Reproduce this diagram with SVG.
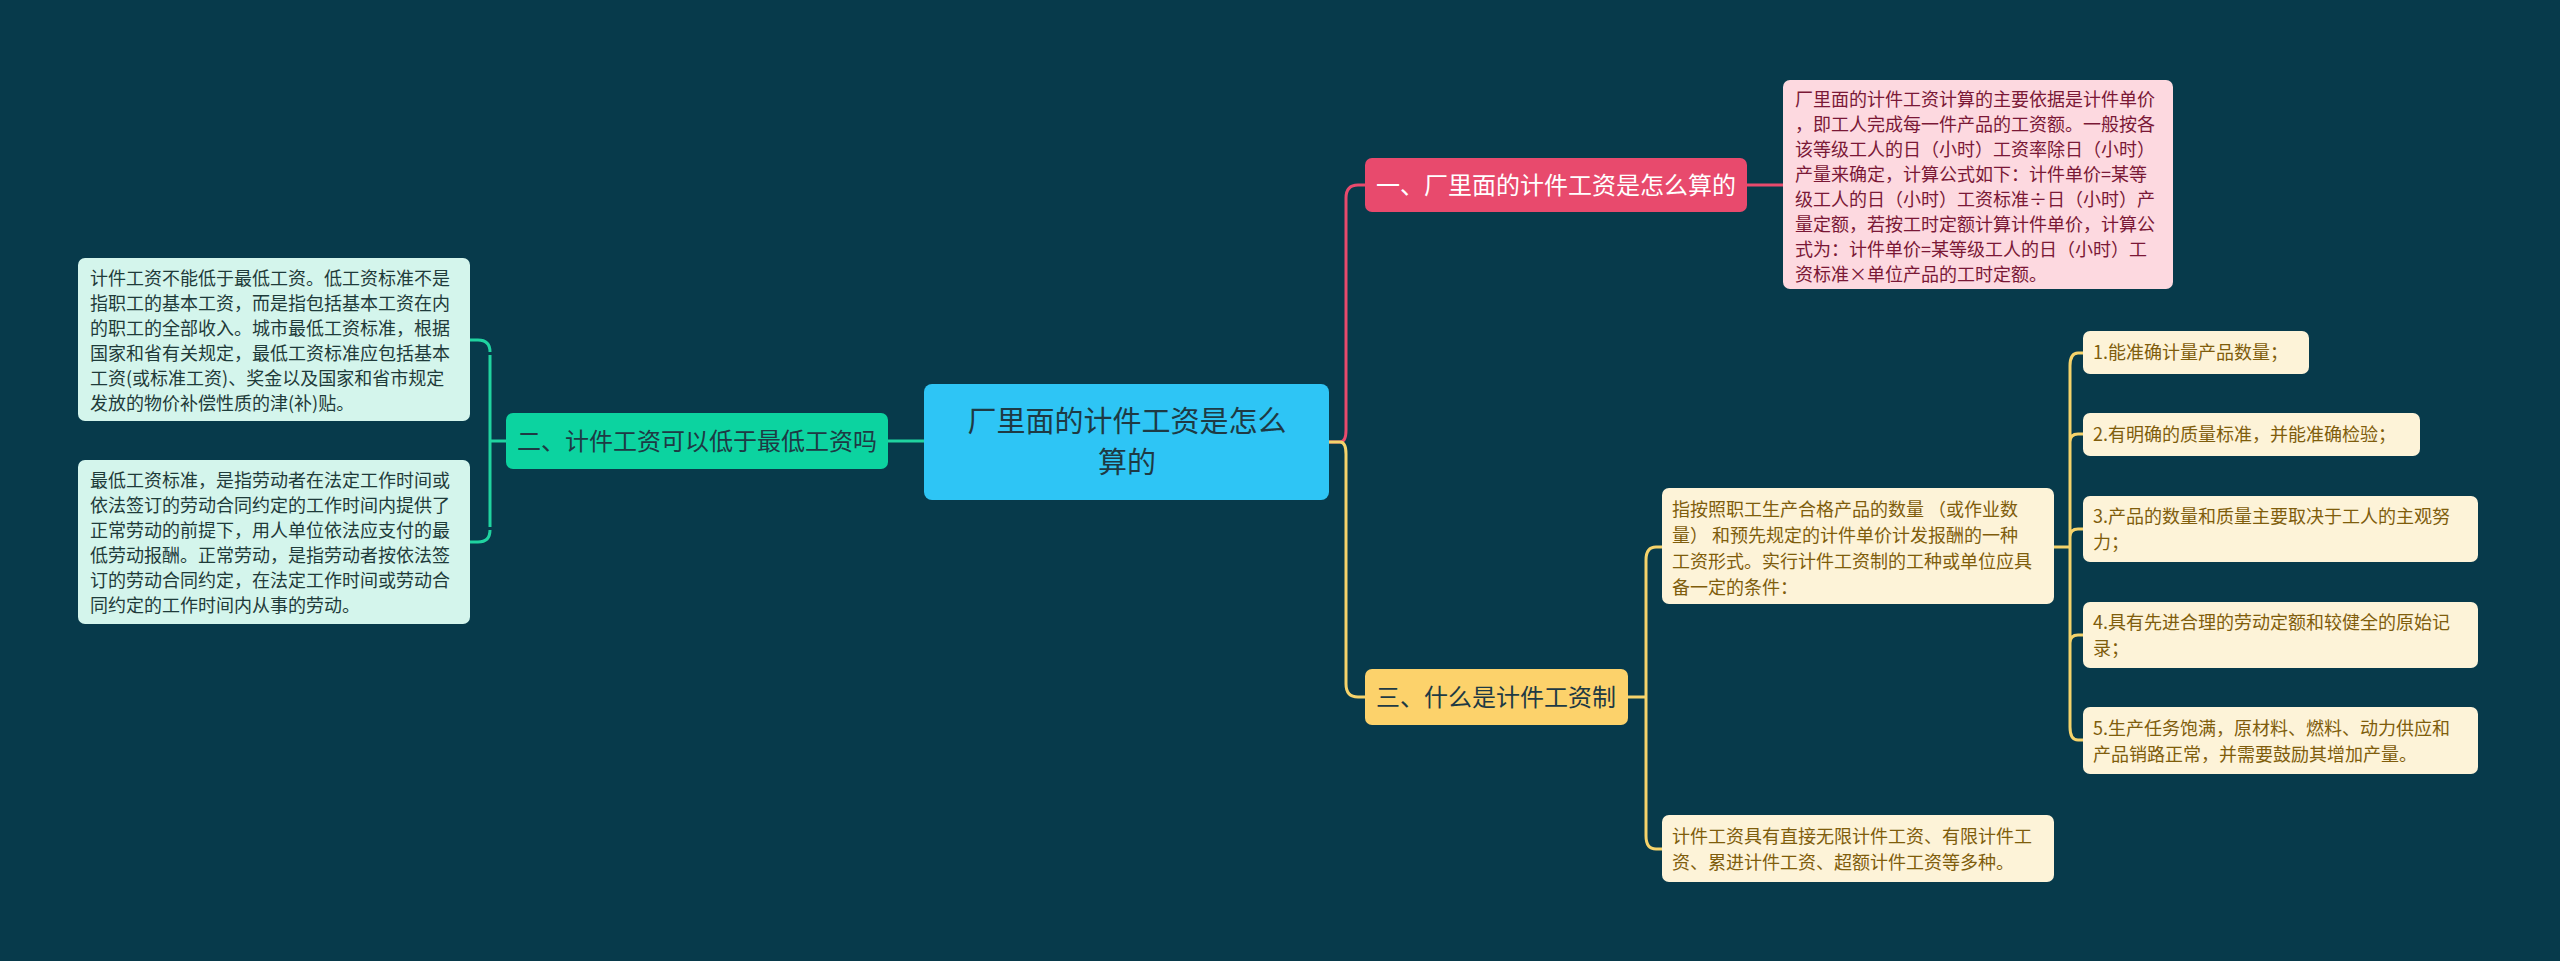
<svg xmlns="http://www.w3.org/2000/svg" width="2560" height="961" viewBox="0 0 2560 961">
<style>
text{font-family:"Noto Sans CJK SC","Liberation Sans",sans-serif}
.c{fill:none;stroke-width:3}
.s{font-size:18px}
.lt{fill:#1f3b3a}
.yt{fill:#7f5d0c}
.pt{fill:#7a1836}
</style>
<rect width="2560" height="961" fill="#073a4b"/>
<g id="connectors">
<path class="c" stroke="#e84a6d" d="M1329,442 H1340 Q1346,442 1346,430 V198 Q1346,185 1358,185 H1365"/>
<path class="c" stroke="#f5d36b" d="M1329,442 H1340 Q1346,442 1346,454 V684 Q1346,697 1358,697 H1365"/>
<path class="c" stroke="#20d3a0" d="M924,441 H888"/>
<path class="c" stroke="#20d3a0" d="M506,441 H490 M490,355 V527 M490,352 Q490,340 478,340 H470 M490,530 Q490,542 478,542 H470"/>
<path class="c" stroke="#e84a6d" d="M1747,185 H1783"/>
<path class="c" stroke="#f5d36b" d="M1628,697 H1646 M1646,560 V836 M1646,560 Q1646,547 1656,547 H1662 M1646,836 Q1646,849 1656,849 H1662"/>
<path class="c" stroke="#f5d36b" d="M2054,547 H2070 M2070,366 V727 M2070,366 Q2070,353 2078,353 H2083 M2070,442 Q2070,434 2078,434 H2083 M2070,537 Q2070,529 2078,529 H2083 M2070,643 Q2070,635 2078,635 H2083 M2070,727 Q2070,740 2078,740 H2083"/>
</g>
<g id="center"><rect x="924" y="384" width="405" height="116" rx="8" fill="#2ec5f5"/>
<text x="1127" y="432" font-size="29" fill="#1e3a44" text-anchor="middle">厂里面的计件工资是怎么</text>
<text x="1127" y="473" font-size="29" fill="#1e3a44" text-anchor="middle">算的</text></g>
<g id="b1"><rect x="1365" y="158" width="382" height="54" rx="7" fill="#e84a6d"/>
<text x="1556" y="194" font-size="24" fill="#ffffff" text-anchor="middle">一、厂里面的计件工资是怎么算的</text></g>
<g id="b2"><rect x="506" y="413" width="382" height="56" rx="7" fill="#0cd3a0"/>
<text x="697" y="450" font-size="24" fill="#1e3a44" text-anchor="middle">二、计件工资可以低于最低工资吗</text></g>
<g id="b3"><rect x="1365" y="669" width="263" height="56" rx="7" fill="#fcd26b"/>
<text x="1496" y="706" font-size="24" fill="#1e3a44" text-anchor="middle">三、什么是计件工资制</text></g>
<g id="p1"><rect x="1783" y="80" width="390" height="209" rx="7" fill="#fdd9e0"/>
<text class="s pt"><tspan x="1795" y="106">厂里面的计件工资计算的主要依据是计件单价</tspan><tspan x="1795" y="131">，即工人完成每一件产品的工资额。一般按各</tspan><tspan x="1795" y="156">该等级工人的日（小时）工资率除日（小时）</tspan><tspan x="1795" y="181">产量来确定，计算公式如下：计件单价=某等</tspan><tspan x="1795" y="206">级工人的日（小时）工资标准÷日（小时）产</tspan><tspan x="1795" y="231">量定额，若按工时定额计算计件单价，计算公</tspan><tspan x="1795" y="256">式为：计件单价=某等级工人的日（小时）工</tspan><tspan x="1795" y="281">资标准×单位产品的工时定额。</tspan></text></g>
<g id="l1"><rect x="78" y="258" width="392" height="163" rx="7" fill="#d4f5ec"/>
<text class="s lt"><tspan x="90" y="285">计件工资不能低于最低工资。低工资标准不是</tspan><tspan x="90" y="310">指职工的基本工资，而是指包括基本工资在内</tspan><tspan x="90" y="335">的职工的全部收入。城市最低工资标准，根据</tspan><tspan x="90" y="360">国家和省有关规定，最低工资标准应包括基本</tspan><tspan x="90" y="385">工资(或标准工资)、奖金以及国家和省市规定</tspan><tspan x="90" y="410">发放的物价补偿性质的津(补)贴。</tspan></text></g>
<g id="l2"><rect x="78" y="460" width="392" height="164" rx="7" fill="#d4f5ec"/>
<text class="s lt"><tspan x="90" y="487">最低工资标准，是指劳动者在法定工作时间或</tspan><tspan x="90" y="512">依法签订的劳动合同约定的工作时间内提供了</tspan><tspan x="90" y="537">正常劳动的前提下，用人单位依法应支付的最</tspan><tspan x="90" y="562">低劳动报酬。正常劳动，是指劳动者按依法签</tspan><tspan x="90" y="587">订的劳动合同约定，在法定工作时间或劳动合</tspan><tspan x="90" y="612">同约定的工作时间内从事的劳动。</tspan></text></g>
<g id="m1"><rect x="1662" y="488" width="392" height="116" rx="7" fill="#fdf3d8"/>
<text class="s yt"><tspan x="1672" y="516">指按照职工生产合格产品的数量 （或作业数</tspan><tspan x="1672" y="542">量） 和预先规定的计件单价计发报酬的一种</tspan><tspan x="1672" y="568">工资形式。实行计件工资制的工种或单位应具</tspan><tspan x="1672" y="594">备一定的条件：</tspan></text></g>
<g id="m2"><rect x="1662" y="815" width="392" height="67" rx="7" fill="#fdf3d8"/>
<text class="s yt"><tspan x="1672" y="843">计件工资具有直接无限计件工资、有限计件工</tspan><tspan x="1672" y="869">资、累进计件工资、超额计件工资等多种。</tspan></text></g>
<g id="r1"><rect x="2083" y="331" width="226" height="43" rx="7" fill="#fdf3d8"/><text class="s yt" x="2093" y="359">1.能准确计量产品数量；</text></g>
<g id="r2"><rect x="2083" y="413" width="337" height="43" rx="7" fill="#fdf3d8"/><text class="s yt" x="2093" y="441">2.有明确的质量标准，并能准确检验；</text></g>
<g id="r3"><rect x="2083" y="496" width="395" height="66" rx="7" fill="#fdf3d8"/><text class="s yt"><tspan x="2093" y="523">3.产品的数量和质量主要取决于工人的主观努</tspan><tspan x="2093" y="549">力；</tspan></text></g>
<g id="r4"><rect x="2083" y="602" width="395" height="66" rx="7" fill="#fdf3d8"/><text class="s yt"><tspan x="2093" y="629">4.具有先进合理的劳动定额和较健全的原始记</tspan><tspan x="2093" y="655">录；</tspan></text></g>
<g id="r5"><rect x="2083" y="707" width="395" height="67" rx="7" fill="#fdf3d8"/><text class="s yt"><tspan x="2093" y="735">5.生产任务饱满，原材料、燃料、动力供应和</tspan><tspan x="2093" y="761">产品销路正常，并需要鼓励其增加产量。</tspan></text></g>
</svg>
